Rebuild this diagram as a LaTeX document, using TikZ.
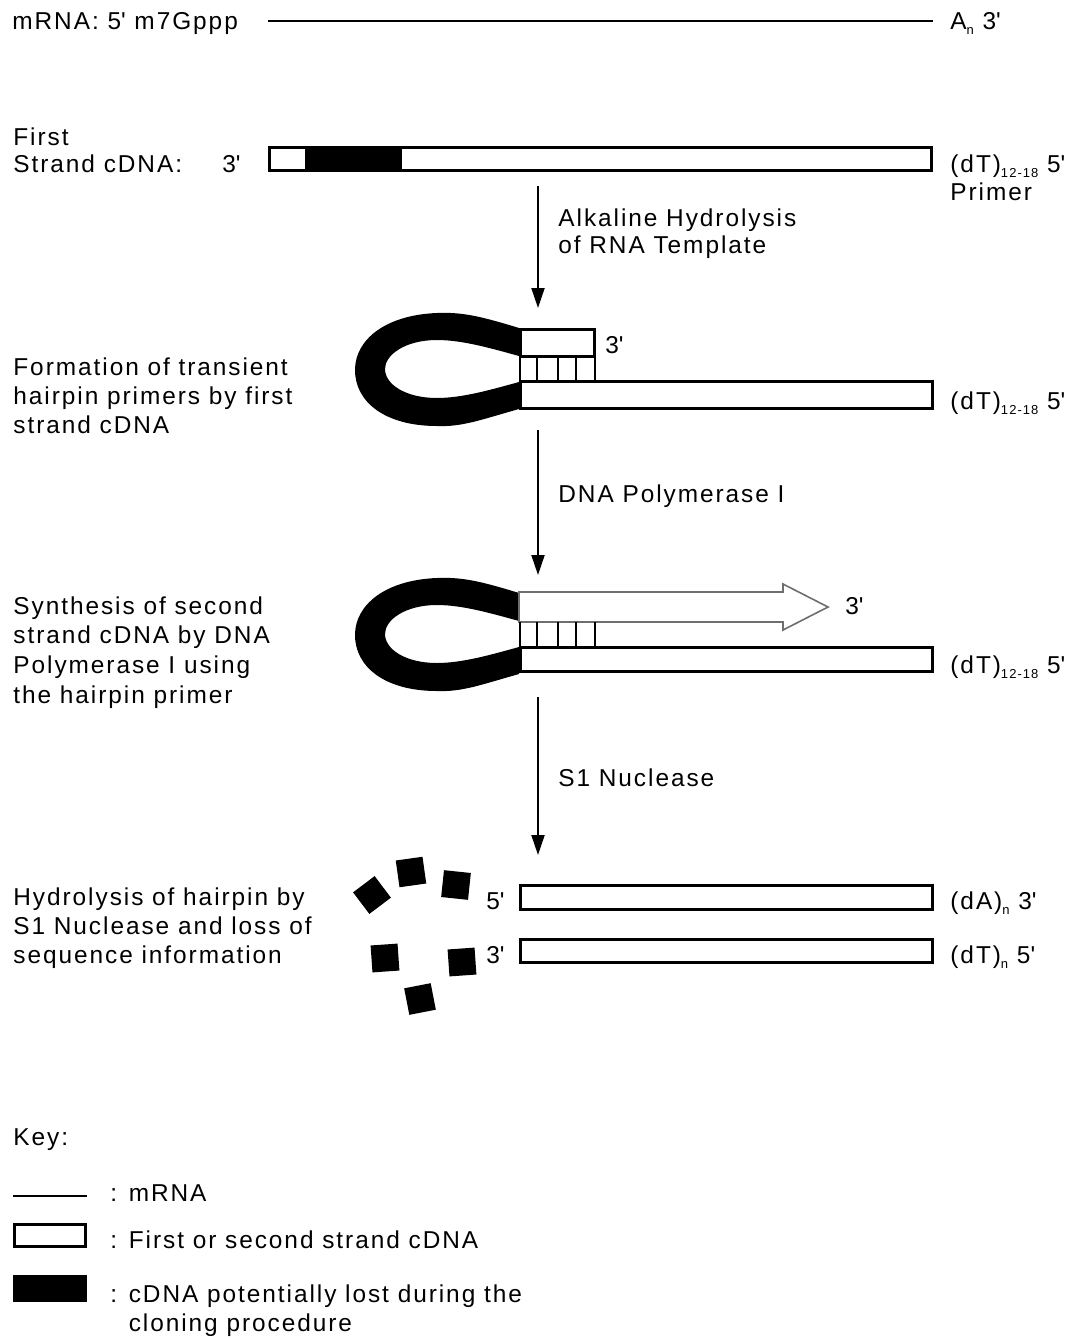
\documentclass[tikz,border=0pt]{standalone}
\usepackage{fontspec}
\setmainfont[LetterSpace=8]{Liberation Sans}
\usetikzlibrary{arrows.meta}
\newcommand\q{\textquotesingle}
\newcommand\sub[1]{\raisebox{-0.4ex}{\fontsize{6.5pt}{6.5pt}\selectfont #1}}
\definecolor{arrowgray}{RGB}{110,110,110}

\begin{document}
\begin{tikzpicture}[x=0.5pt,y=-0.5pt,
  lbl/.style={inner sep=0pt, anchor=base west, align=left,
              font=\fontsize{12.2pt}{14.5pt}\selectfont},
  strand/.style={draw=black, line width=1.5pt, fill=white},
  rna/.style={draw=black, line width=1.2pt},
  rung/.style={draw=black, line width=1.4pt},
  flow/.style={draw=black, line width=1pt, -{Triangle[length=10pt,width=6.5pt]}},
  frag/.style={fill=black, minimum size=13.5pt, inner sep=0pt, draw=none},
  hairpinloop/.pic={
    \fill[black, even odd rule]
      (519,328) .. controls (480,316) and (462,312) .. (437,313)
                .. controls (385,315) and (355,340) .. (355,370)
                .. controls (355,402) and (385,426) .. (437,426)
                .. controls (462,427) and (480,420) .. (519,409) -- cycle
      (519,356) .. controls (490,348) and (462,340) .. (437,340)
                .. controls (405,340) and (385,355) .. (385,369)
                .. controls (385,384) and (405,398) .. (437,398)
                .. controls (462,398) and (490,390) .. (519,382) -- cycle;
  }
]
\useasboundingbox (0,0) rectangle (1076,1339);

% mRNA
\coordinate (mL) at (268,21);
\coordinate (mR) at (933,21);
\draw[rna] (mL) -- (mR);
\node[lbl] (tMrna) at (12,29) {mRNA: 5\q{} m7Gppp};
\node[lbl] (tAn) at (950,29) {A\sub{n} 3\q};

% first strand cDNA (multi-line labels are placed by their last baseline)
\draw[strand] (269.5,147.5) rectangle (931.5,170.5);
\fill[black] (305,147.5) rectangle (402,170.5);
\node[lbl, font=\fontsize{12.2pt}{13.5pt}\selectfont] (tFirst) at (13,172) {First\\Strand cDNA:};
\node[lbl] (t3a) at (222,172) {3\q};
\node[lbl, font=\fontsize{12.2pt}{14pt}\selectfont] (tdT1) at (950,200) {(dT)\sub{12-18} 5\q\\Primer};

\coordinate (a1s) at (538,186);
\coordinate (a1e) at (538,308);
\draw[flow] (a1s) -- (a1e);
\node[lbl, font=\fontsize{12.2pt}{13.3pt}\selectfont] (tAlk) at (558,253) {Alkaline Hydrolysis\\of RNA Template};

% hairpin primer
\pic {hairpinloop};
\draw[strand] (520.5,329.5) rectangle (594.5,356);
\draw[strand] (520,381.5) rectangle (932,408.5);
\foreach \xr in {537,558,576,595}
  \draw[rung] (\xr,356) -- (\xr,381.5);
\draw[rung] (520,356) -- (520,381.5);
\node[lbl] (t3b) at (605,353) {3\q};
\node[lbl] (tdT2) at (950,409) {(dT)\sub{12-18} 5\q};
\node[lbl] (tForm) at (13,433) {Formation of transient\\hairpin primers by first\\strand cDNA};

\coordinate (a2s) at (538,430);
\coordinate (a2e) at (538,575);
\draw[flow] (a2s) -- (a2e);
\node[lbl] (tPol) at (558,502) {DNA Polymerase I};

% second strand synthesis
\begin{scope}[shift={(0,265)}]
  \pic {hairpinloop};
\end{scope}
\draw[draw=arrowgray, line width=0.8pt, fill=white]
  (519,592) -- (783,592) -- (783,584) -- (828,607) -- (783,630) -- (783,622) -- (519,622) -- cycle;
\draw[strand] (520,647.5) rectangle (932,671.5);
\foreach \xr in {537,558,576,595}
  \draw[rung] (\xr,622) -- (\xr,647.5);
\draw[rung] (520,622) -- (520,647.5);
\node[lbl] (t3c) at (845,614) {3\q};
\node[lbl] (tdT3) at (950,673) {(dT)\sub{12-18} 5\q};
\node[lbl, font=\fontsize{12.2pt}{14.8pt}\selectfont] (tSyn) at (13,703)
  {Synthesis of second\\strand cDNA by DNA\\Polymerase I using\\the hairpin primer};

\coordinate (a3s) at (538,697);
\coordinate (a3e) at (538,855);
\draw[flow] (a3s) -- (a3e);
\node[lbl] (tS1) at (558,786) {S1 Nuclease};

% S1 hydrolysis products
\draw[strand] (520,885.5) rectangle (932,909.5);
\draw[strand] (520,939.5) rectangle (932,962.5);
\node[lbl] (t5d) at (486,909) {5\q};
\node[lbl] (t3d) at (486,963) {3\q};
\node[lbl] (tdA) at (950,909) {(dA)\sub{n} 3\q};
\node[lbl] (tdT4) at (950,963) {(dT)\sub{n} 5\q};
\node[lbl] (tHyd) at (13,963) {Hydrolysis of hairpin by\\S1 Nuclease and loss of\\sequence information};

\node[frag, rotate=37] (sq1) at (372,895) {};
\node[frag, rotate=8]  (sq2) at (411,872) {};
\node[frag, rotate=-6] (sq3) at (456,885) {};
\node[frag, rotate=4]  (sq4) at (385,958) {};
\node[frag, rotate=4]  (sq5) at (462,962) {};
\node[frag, rotate=11] (sq6) at (420,999) {};

% key
\node[lbl] (tKey) at (13,1145) {Key:};
\coordinate (kL) at (13,1196);
\coordinate (kR) at (87,1196);
\draw[draw=black, line width=1pt] (kL) -- (kR);
\draw[strand] (14.5,1224.5) rectangle (85.5,1246.5);
\fill[black] (13,1275) rectangle (87,1302);
\node[lbl] (tK1) at (110,1201) {: mRNA};
\node[lbl] (tK2) at (110,1248) {: First or second strand cDNA};
\node[lbl] (tK3) at (110,1331) {: cDNA potentially lost during the\\\phantom{: }cloning procedure};
\end{tikzpicture}
\end{document}
